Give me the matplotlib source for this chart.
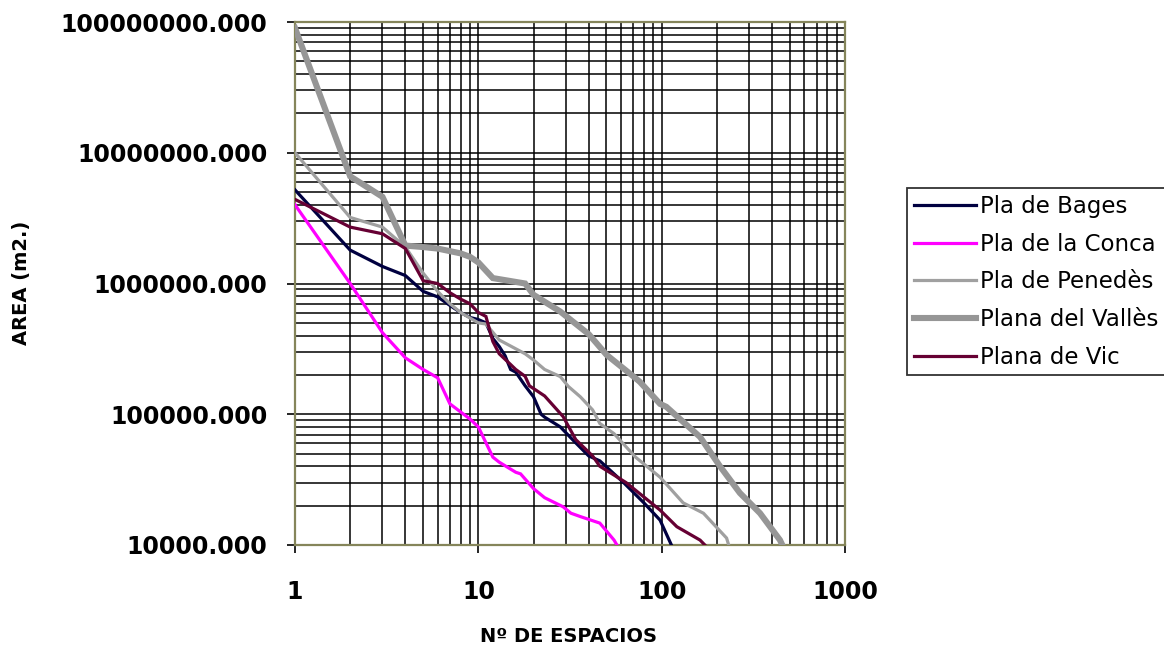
import matplotlib
matplotlib.use("Agg")
import matplotlib.pyplot as plt
from matplotlib.ticker import LogLocator, FixedLocator, FixedFormatter, NullFormatter, FuncFormatter

# Rank-size data: rank (Nº de espacios) and area (m2) for each plain
bages_rank = [1, 2, 3, 4, 5, 6, 7, 8, 9, 10, 11, 12, 13, 14, 15, 16, 18, 20, 22, 23, 28, 33, 40, 46, 62, 80, 98, 113]
bages_area = [5.2e6, 1.8e6, 1.35e6, 1.15e6, 8.7e5, 7.9e5, 6.8e5, 6.0e5, 5.5e5, 5.3e5, 5.0e5, 3.8e5, 3.3e5,
              2.8e5, 2.2e5, 2.1e5, 1.65e5, 1.36e5, 1.0e5, 9.5e4, 8.0e4, 6.3e4, 4.8e4, 4.4e4, 3.0e4, 2.1e4,
              1.55e4, 1.0e4]

conca_rank = [1, 2, 3, 4, 5, 6, 7, 9, 10, 12, 13, 16, 17, 20, 23, 29, 32, 36, 46, 55, 57]
conca_area = [4.0e6, 1.0e6, 4.2e5, 2.7e5, 2.2e5, 1.9e5, 1.2e5, 9.2e4, 8.0e4, 4.7e4, 4.3e4, 3.6e4, 3.5e4,
              2.7e4, 2.3e4, 1.96e4, 1.75e4, 1.65e4, 1.47e4, 1.09e4, 1.0e4]

penedes_rank = [1, 2, 3, 4, 5, 6, 7, 8, 10, 11, 13, 14, 18, 20, 23, 28, 31, 36, 42, 46, 55, 72, 98, 131,
                169, 226, 232]
penedes_area = [1.0e7, 3.2e6, 2.7e6, 1.9e6, 1.2e6, 8.7e5, 7.0e5, 6.0e5, 5.0e5, 4.9e5, 3.7e5, 3.5e5, 2.9e5,
                2.6e5, 2.2e5, 1.94e5, 1.63e5, 1.36e5, 1.08e5, 8.5e4, 7.1e4, 4.7e4, 3.3e4, 2.1e4, 1.75e4,
                1.13e4, 1.0e4]

valles_rank = [1, 2, 3, 4, 5, 6, 8, 9, 10, 12, 18, 20, 28, 40, 50, 70, 76, 98, 106, 162, 208, 267, 344,
               442, 455]
valles_area = [9.0e7, 6.6e6, 4.6e6, 1.95e6, 1.9e6, 1.85e6, 1.7e6, 1.6e6, 1.45e6, 1.1e6, 1.0e6, 8.2e5,
               6.1e5, 4.1e5, 2.85e5, 1.95e5, 1.77e5, 1.2e5, 1.14e5, 6.7e4, 4.0e4, 2.5e4, 1.75e4, 1.09e4,
               1.0e4]

vic_rank = [1, 2, 3, 4, 5, 6, 7, 8, 9, 10, 11, 12, 13, 15, 16, 18, 19, 23, 29, 34, 42, 46, 64, 98, 121,
            162, 172]
vic_area = [4.4e6, 2.7e6, 2.4e6, 1.85e6, 1.05e6, 1.0e6, 8.5e5, 7.6e5, 7.0e5, 6.0e5, 5.6e5, 3.6e5, 2.9e5,
            2.4e5, 2.2e5, 1.95e5, 1.65e5, 1.38e5, 9.6e4, 6.4e4, 4.8e4, 4.0e4, 3.0e4, 1.85e4, 1.38e4,
            1.09e4, 1.0e4]

series_names = ["Pla de Bages", "Pla de la Conca", "Pla de Penedès", "Plana del Vallès", "Plana de Vic"]
x_ticks = [1, 10, 100, 1000]
x_tick_labels = ["1", "10", "100", "1000"]
y_ticks = [1e4, 1e5, 1e6, 1e7, 1e8]

W, H = 1164, 651
fig = plt.figure(figsize=(W / 100, H / 100), dpi=100)
fig.patch.set_facecolor("white")

left, right, top, bottom = 295, 845, 22, 545
ax = fig.add_axes([left / W, 1 - bottom / H, (right - left) / W, (bottom - top) / H])
ax.set_xscale("log")
ax.set_yscale("log")
ax.set_xlim(1, 1000)
ax.set_ylim(1e4, 1e8)

# Grid: every decade subdivision drawn in black
ax.xaxis.set_minor_locator(LogLocator(base=10, subs=range(2, 10)))
ax.yaxis.set_minor_locator(LogLocator(base=10, subs=range(2, 10)))
ax.xaxis.set_minor_formatter(NullFormatter())
ax.yaxis.set_minor_formatter(NullFormatter())
ax.grid(True, which="both", color="black", linewidth=1.1)
ax.set_axisbelow(True)

styles = [
    (bages_rank, bages_area, "#000040", 2.3),
    (conca_rank, conca_area, "#ff00ff", 2.3),
    (penedes_rank, penedes_area, "#a0a0a0", 2.3),
    (valles_rank, valles_area, "#969696", 4.4),
    (vic_rank, vic_area, "#660033", 2.3),
]
for (xs, ys, col, lw), name in zip(styles, series_names):
    ax.plot(xs, ys, color=col, linewidth=lw, label=name, solid_joinstyle="miter", zorder=3)

ax.xaxis.set_major_locator(FixedLocator(x_ticks))
ax.xaxis.set_major_formatter(FixedFormatter(x_tick_labels))
ax.yaxis.set_major_locator(FixedLocator(y_ticks))
ax.yaxis.set_major_formatter(FuncFormatter(lambda v, p: f"{v:.3f}"))

ax.tick_params(which="major", direction="out", length=6, width=1.2, color="black",
               labelsize=17, pad=14)
ax.tick_params(which="minor", length=0)
for lab in ax.get_xticklabels() + ax.get_yticklabels():
    lab.set_fontweight("bold")
    lab.set_fontfamily("DejaVu Sans")
ax.tick_params(axis="x", pad=19)

for sp in ax.spines.values():
    sp.set_color("#85855a")
    sp.set_linewidth(1.6)

fig.text(22 / W, 1 - 283 / H, "AREA (m2.)", rotation=90, ha="center", va="center",
         fontsize=14, fontweight="bold", family="DejaVu Sans")
fig.text(568 / W, 1 - 636 / H, "Nº DE ESPACIOS", ha="center", va="center",
         fontsize=14, fontweight="bold", family="DejaVu Sans")

leg = fig.legend(loc="upper left", bbox_to_anchor=(907 / W, 1 - 188 / H),
                 bbox_transform=fig.transFigure, borderaxespad=0, frameon=True,
                 fancybox=False, shadow=False, fontsize=16.5, handlelength=2.7,
                 handletextpad=0.2, labelspacing=0.64, borderpad=0.3)
leg.get_frame().set_edgecolor("black")
leg.get_frame().set_linewidth(1.3)

fig.savefig("out.png", dpi=100, facecolor="white")
